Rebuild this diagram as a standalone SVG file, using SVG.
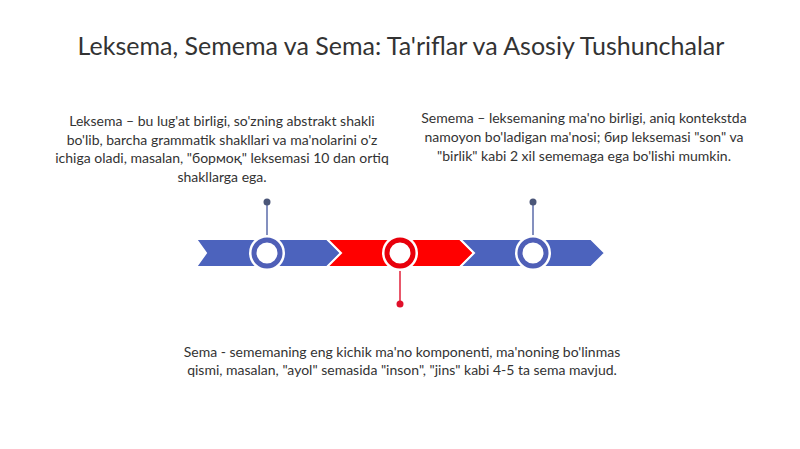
<svg xmlns="http://www.w3.org/2000/svg" width="800" height="449" viewBox="0 0 800 449">
<style>
.t{font-family:Lato,"Noto Sans","DejaVu Sans",sans-serif;fill:#333;text-anchor:middle}
.b{font-size:14px}
.blue{fill:#4C63BD;stroke:#fff;stroke-width:2}
.red{fill:#FF0000;stroke:#fff;stroke-width:2}
.rb{fill:#fff;stroke:#4F5FB7;stroke-width:5}
.rr{fill:#fff;stroke:#E8000B;stroke-width:5}
</style>
<rect width="800" height="449" fill="#fff"/>
<text class="t" x="401" y="55" font-size="25">Leksema, Semema va Sema: Ta'riflar va Asosiy Tushunchalar</text>
<g id="band">
<polygon class="blue" points="196,239 327,239 341,253 327,267 196,267 206,253"/>
<polygon class="red" points="327,239 460,239 474,253 460,267 327,267 341,253"/>
<polygon class="blue" points="460,239 591,239 605,253 591,267 460,267 474,253"/>
</g>
<g id="connectors">
<line x1="267" y1="202" x2="267" y2="236" stroke="#5B6BAA" stroke-width="1.5"/>
<circle cx="267" cy="202" r="3.5" fill="#4B5678"/>
<line x1="400" y1="270" x2="400" y2="304" stroke="#E0203A" stroke-width="1.5"/>
<circle cx="400" cy="304" r="3.5" fill="#E0102A"/>
<line x1="533" y1="202" x2="533" y2="236" stroke="#5B6BAA" stroke-width="1.5"/>
<circle cx="533" cy="202" r="3.5" fill="#4B5678"/>
</g>
<g id="node-leksema">
<circle cx="267" cy="253" r="18" fill="#fff"/>
<circle class="rb" cx="267" cy="253" r="13"/>
<text class="t b" x="222" y="126">Leksema – bu lug'at birligi, so'zning abstrakt shakli</text>
<text class="t b" x="222" y="145">bo'lib, barcha grammatik shakllari va ma'nolarini o'z</text>
<text class="t b" x="222" y="163">ichiga oladi, masalan, "бормоқ" leksemasi 10 dan ortiq</text>
<text class="t b" x="222" y="182">shakllarga ega.</text>
</g>
<g id="node-sema">
<circle cx="400" cy="253" r="18" fill="#fff"/>
<circle class="rr" cx="400" cy="253" r="13"/>
<text class="t b" x="402" y="357">Sema - sememaning eng kichik ma'no komponenti, ma'noning bo'linmas</text>
<text class="t b" x="402" y="375">qismi, masalan, "ayol" semasida "inson", "jins" kabi 4-5 ta sema mavjud.</text>
</g>
<g id="node-semema">
<circle cx="533" cy="253" r="18" fill="#fff"/>
<circle class="rb" cx="533" cy="253" r="13"/>
<text class="t b" x="584" y="123">Semema – leksemaning ma'no birligi, aniq kontekstda</text>
<text class="t b" x="584" y="142">namoyon bo'ladigan ma'nosi; бир leksemasi "son" va</text>
<text class="t b" x="584" y="161">"birlik" kabi 2 xil sememaga ega bo'lishi mumkin.</text>
</g>
</svg>
